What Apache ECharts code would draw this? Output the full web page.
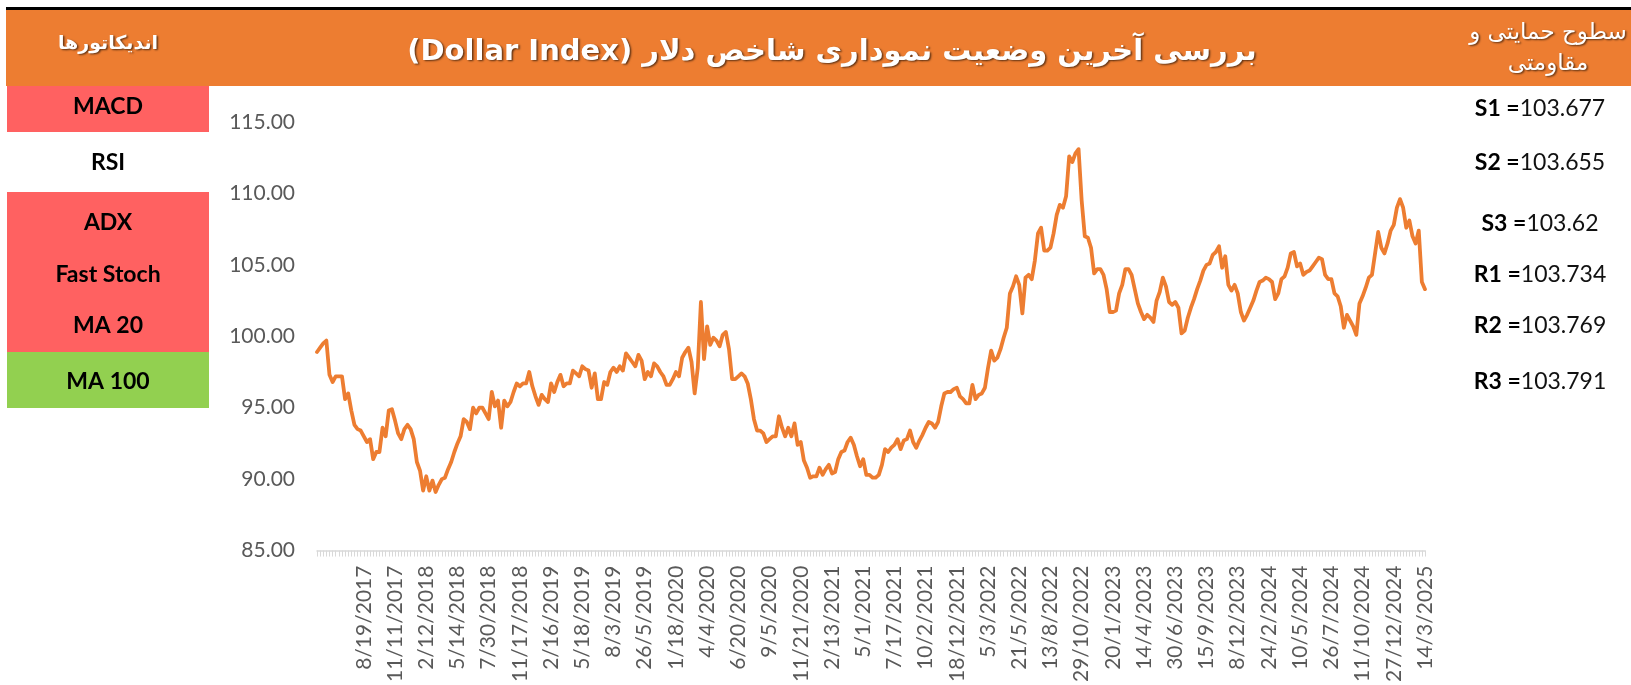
<!DOCTYPE html>
<html>
<head>
<meta charset="utf-8">
<script src="https://cdn.jsdelivr.net/npm/echarts@6/dist/echarts.min.js"></script>
<style>
  html, body { margin: 0; padding: 0; background: #fff; }
  #main { width: 1631px; height: 685px; }
</style>
</head>
<body>
<div id="main"></div>
<script>
// weekly dollar index closes
var dxy = [
    98.9, 99.2, 99.5, 99.7, 97.3, 96.8, 97.2, 97.2, 97.2, 95.6, 96.0, 94.8,
    93.8, 93.5, 93.4, 93.0, 92.6, 92.8, 91.4, 91.9, 91.9, 93.6, 93.0,
    94.8, 94.9, 94.1, 93.2, 92.8, 93.5, 93.8, 93.5, 92.8, 91.2, 90.6, 89.2,
    90.2, 89.2, 89.9, 89.1, 89.6, 90.0, 90.1, 90.7, 91.2, 91.9, 92.5, 93.0,
    94.2, 94.0, 93.5, 95.0, 94.6, 95.0, 95.0, 94.6, 94.2, 96.1, 95.1, 95.5,
    93.6, 95.5, 95.1, 95.4, 96.1, 96.7, 96.5, 96.7,
    96.7, 97.5, 96.5, 95.8, 95.2, 95.9, 95.6, 95.4, 96.7, 96.1, 96.8, 97.3,
    96.5, 96.7, 96.7, 97.6, 97.4, 97.2, 97.9, 97.7, 97.6, 96.4, 97.4, 95.6,
    95.6, 96.8, 96.6, 97.5, 97.8, 97.5, 97.9, 97.6, 98.8, 98.5, 98.2, 97.9,
    98.7, 98.3, 97.0, 97.5, 97.2, 98.1, 97.9, 97.5,
    97.2, 96.6, 96.6, 97.0, 97.5, 97.2, 98.5, 98.9, 99.2, 98.2, 96.0, 97.8,
    102.4, 98.4, 100.7, 99.4, 99.9, 99.7, 99.3, 100.1, 100.3, 99.1, 97.0, 97.0,
    97.2, 97.4, 97.2, 96.7, 95.6, 94.2, 93.4, 93.4, 93.2, 92.6, 92.8, 93.0,
    93.0, 94.4, 93.6, 93.0, 93.6, 93.0, 93.9, 92.4, 92.6,
    91.3, 90.8, 90.1, 90.2, 90.2, 90.8, 90.3, 90.7, 91.0, 90.4, 90.5, 91.4,
    91.9, 92.0, 92.6, 92.9, 92.4, 91.6, 90.9, 91.4, 90.3, 90.3, 90.1, 90.1,
    90.3, 91.0, 92.1, 91.9, 92.2, 92.4, 92.8, 92.1, 92.7, 92.8, 93.4, 92.6,
    92.2, 92.7, 93.1, 93.6, 94.0, 93.9, 93.6, 94.0,
    95.1, 96.0, 96.1, 96.1, 96.3, 96.4, 95.8, 95.6, 95.3, 95.3, 96.6, 95.6,
    95.9, 96.0, 96.4, 97.8, 99.0, 98.3, 98.5, 99.1, 99.9, 100.6, 103.0, 103.5,
    104.2, 103.6, 101.6, 104.1, 104.3, 104.0, 105.3, 107.2, 107.6, 106.0, 106.0, 106.2,
    107.2, 108.5, 109.2, 109.0, 109.8, 112.6, 112.2, 112.8, 113.1,
    109.5, 107.0, 106.9, 106.2, 104.4, 104.7, 104.7, 104.3, 103.3, 101.7, 101.7, 101.8,
    103.0, 103.6, 104.7, 104.7, 104.3, 103.3, 102.3, 101.7, 101.2, 101.5, 101.3, 101.0,
    102.5, 103.1, 104.1, 103.5, 102.4, 102.2, 102.4, 102.0, 100.2, 100.4, 101.3, 102.0,
    102.6, 103.3, 103.9, 104.6, 105.0, 105.1, 105.7, 105.9,
    106.3, 104.8, 105.6, 103.6, 103.2, 103.6, 103.0, 101.7, 101.1, 101.5, 102.0, 102.5,
    103.2, 103.8, 103.9, 104.1, 104.0, 103.8, 102.6, 103.0, 104.0, 104.2, 104.8, 105.8,
    105.9, 104.9, 105.1, 104.3, 104.5, 104.6, 104.9, 105.2, 105.5, 105.4, 104.3, 104.0,
    104.0, 103.0, 102.8, 102.1, 100.6, 101.5, 101.1, 100.7,
    100.1, 102.3, 102.8, 103.4, 104.1, 104.3, 105.8, 107.3, 106.2, 105.8, 106.5, 107.4,
    107.8, 109.0, 109.6, 109.0, 107.6, 108.1, 107.0, 106.5, 107.4, 103.8, 103.3
];

// dates shown under the axis (as printed, mixed formats)
var dateLabels = [
    '8/19/2017', '11/11/2017', '2/12/2018', '5/14/2018', '7/30/2018', '11/17/2018',
    '2/16/2019', '5/18/2019', '8/3/2019', '26/5/2019', '1/18/2020', '4/4/2020',
    '6/20/2020', '9/5/2020', '11/21/2020', '2/13/2021', '5/1/2021', '7/17/2021',
    '10/2/2021', '18/12/2021', '5/3/2022', '21/5/2022', '13/8/2022', '29/10/2022',
    '20/1/2023', '14/4/2023', '30/6/2023', '15/9/2023', '8/12/2023', '24/2/2024',
    '10/5/2024', '26/7/2024', '11/10/2024', '27/12/2024', '14/3/2025'
];
var firstLabelAt = 15;   // points before the first dated label
var labelStep = 10;      // points between dated labels

var yTicks = [85, 90, 95, 100, 105, 110, 115];

var indicators = ['MACD', 'RSI', 'ADX', 'Fast Stoch', 'MA 20', 'MA 100'];
var indicatorState = ['sell', 'neutral', 'sell', 'sell', 'sell', 'buy'];

var levelNames = ['S1', 'S2', 'S3', 'R1', 'R2', 'R3'];
var levelValues = ['103.677', '103.655', '103.62', '103.734', '103.769', '103.791'];

var titleText = 'بررسی آخرین وضعیت نموداری شاخص دلار (Dollar Index)';
var leftHead = 'اندیکاتورها';
var rightHead = ['سطوح حمایتی و', 'مقاومتی'];

// ---- build
var categories = [];
for (var i = 0; i < dxy.length; i++) {
    var k = i - firstLabelAt;
    categories.push(k >= 0 && k % labelStep === 0 ? dateLabels[k / labelStep] : '');
}

var stateColor = { sell: '#FF6161', neutral: '#FFFFFF', buy: '#92D050' };
var rowTop = [86, 132, 192, 248, 300, 352];
var rowBottom = [132, 192, 248, 300, 352, 408];
var rowText = [107, 163, 223, 275, 326, 382];
var levelY = [109, 163, 224, 275, 326, 382];

var shadow = { textShadowColor: 'rgba(0,0,0,0.6)', textShadowBlur: 2, textShadowOffsetX: 1.5, textShadowOffsetY: 1.5 };

var graphics = [
    { type: 'rect', shape: { x: 6, y: 7, width: 1625, height: 3 }, style: { fill: '#000' }, silent: true },
    { type: 'rect', shape: { x: 6, y: 10, width: 1625, height: 76 }, style: { fill: '#ED7D31' }, silent: true },
    { type: 'text', x: 832, y: 52, silent: true, style: Object.assign({
        text: '\u202B' + titleText + '\u202C', fill: '#fff', font: 'bold 29px "DejaVu Sans"',
        align: 'center', verticalAlign: 'middle' }, shadow) },
    { type: 'text', x: 108, y: 44, silent: true, style: Object.assign({
        text: leftHead, fill: '#fff', font: 'bold 19px "DejaVu Sans"',
        align: 'center', verticalAlign: 'middle' }, shadow) },
    { type: 'text', x: 1548, y: 33, silent: true, style: Object.assign({
        text: rightHead[0], fill: '#fff', font: '23px "DejaVu Sans"',
        align: 'center', verticalAlign: 'middle' }, shadow) },
    { type: 'text', x: 1548, y: 64, silent: true, style: Object.assign({
        text: rightHead[1], fill: '#fff', font: '23px "DejaVu Sans"',
        align: 'center', verticalAlign: 'middle' }, shadow) }
];

indicators.forEach(function (name, j) {
    graphics.push({ type: 'rect', silent: true,
        shape: { x: 7, y: rowTop[j], width: 202, height: rowBottom[j] - rowTop[j] },
        style: { fill: stateColor[indicatorState[j]] } });
    graphics.push({ type: 'text', x: 108, y: rowText[j], silent: true,
        style: { text: name, fill: '#000', font: 'bold 23px Lato', align: 'center', verticalAlign: 'middle' } });
});

levelNames.forEach(function (name, j) {
    graphics.push({ type: 'text', x: 1540, y: levelY[j], silent: true,
        style: {
            text: '{b|' + name + ' =}{n|' + levelValues[j] + '}',
            align: 'center', verticalAlign: 'middle',
            rich: {
                b: { font: 'bold 23px Lato', fill: '#000' },
                n: { font: '23px Lato', fill: '#111' }
            }
        } });
});

var myChart = echarts.init(document.getElementById('main'));
var option = {
    animation: false,
    backgroundColor: '#fff',
    grid: { left: 317, right: 206, top: 122, bottom: 127, containLabel: false },
    xAxis: {
        type: 'category',
        data: categories,
        boundaryGap: false,
        axisLine: { show: true, lineStyle: { color: '#D9D9D9', width: 1.5 } },
        axisTick: { show: true, interval: 0, length: 6, lineStyle: { color: '#D9D9D9' } },
        axisLabel: {
            interval: 0, rotate: 90, margin: 15,
            color: '#595959', fontFamily: 'Lato', fontSize: 21
        },
        splitLine: { show: false }
    },
    yAxis: {
        type: 'value',
        min: yTicks[0],
        max: yTicks[yTicks.length - 1],
        interval: yTicks[1] - yTicks[0],
        axisLine: { show: false },
        axisTick: { show: false },
        splitLine: { show: false },
        axisLabel: {
            margin: 22, color: '#595959', fontFamily: 'Lato', fontSize: 21,
            formatter: function (v) { return v.toFixed(2); }
        }
    },
    series: [{
        name: 'Dollar Index',
        type: 'line',
        data: dxy,
        symbol: 'none',
        smooth: false,
        lineStyle: { color: '#ED7D31', width: 3.8, join: 'round', cap: 'round' }
    }],
    graphic: graphics
};
myChart.setOption(option);
window.addEventListener('resize', myChart.resize);
</script>
</body>
</html>
